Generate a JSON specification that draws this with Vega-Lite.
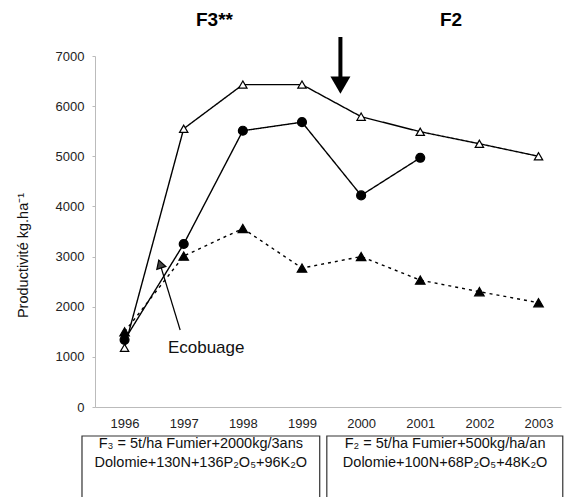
{
  "$schema": "https://vega.github.io/schema/vega-lite/v6.json",
  "width": 466,
  "height": 351,
  "autosize": {"type": "none"},
  "padding": {"left": 95, "top": 56, "right": 3, "bottom": 90},
  "background": "white",
  "config": {"view": {"stroke": null}, "font": "Liberation Sans"},
  "datasets": {
    "series": [
      {"year": 1996, "value": 1180, "series": "Série 1"},
      {"year": 1997, "value": 5550, "series": "Série 1"},
      {"year": 1998, "value": 6430, "series": "Série 1"},
      {"year": 1999, "value": 6430, "series": "Série 1"},
      {"year": 2000, "value": 5790, "series": "Série 1"},
      {"year": 2001, "value": 5490, "series": "Série 1"},
      {"year": 2002, "value": 5250, "series": "Série 1"},
      {"year": 2003, "value": 5000, "series": "Série 1"},
      {"year": 1996, "value": 1340, "series": "Série 2"},
      {"year": 1997, "value": 3250, "series": "Série 2"},
      {"year": 1998, "value": 5510, "series": "Série 2"},
      {"year": 1999, "value": 5680, "series": "Série 2"},
      {"year": 2000, "value": 4220, "series": "Série 2"},
      {"year": 2001, "value": 4970, "series": "Série 2"},
      {"year": 1996, "value": 1500, "series": "Série 3"},
      {"year": 1997, "value": 3010, "series": "Série 3"},
      {"year": 1998, "value": 3560, "series": "Série 3"},
      {"year": 1999, "value": 2770, "series": "Série 3"},
      {"year": 2000, "value": 3000, "series": "Série 3"},
      {"year": 2001, "value": 2530, "series": "Série 3"},
      {"year": 2002, "value": 2300, "series": "Série 3"},
      {"year": 2003, "value": 2080, "series": "Série 3"}
    ],
    "headers": [
      {"x": 1997.52, "y": 7718, "label": "F3**"},
      {"x": 2001.52, "y": 7718, "label": "F2"}
    ],
    "boxes": [
      {"x": 1995.28, "x2": 1999.3, "y": -578, "y2": -1850},
      {"x": 1999.42, "x2": 2003.41, "y": -578, "y2": -1850}
    ],
    "boxtext": [
      {"x": 1997.29, "y": -738, "label": "F₃ = 5t/ha Fumier+2000kg/3ans"},
      {"x": 1997.29, "y": -1117, "label": "Dolomie+130N+136P₂O₅+96K₂O"},
      {"x": 2001.42, "y": -738, "label": "F₂ = 5t/ha Fumier+500kg/ha/an"},
      {"x": 2001.42, "y": -1117, "label": "Dolomie+100N+68P₂O₅+48K₂O"}
    ],
    "bigarrow": [
      {"x": 1999.65, "y": 7379, "y2": 6550, "head": 6420}
    ],
    "ecoarrow": [
      {"x": 1996.94, "y": 1536, "x2": 1996.6, "y2": 2852}
    ],
    "ecotext": [
      {"x": 1997.38, "y": 1177, "label": "Ecobuage"}
    ]
  },
  "layer": [
    {
      "data": {"name": "series"},
      "mark": {"type": "line", "color": "black", "strokeWidth": 1.4},
      "encoding": {
        "x": {
          "field": "year", "type": "quantitative",
          "scale": {"domain": [1995.5, 2003.38], "nice": false, "zero": false},
          "axis": {
            "title": null, "values": [1996, 1997, 1998, 1999, 2000, 2001, 2002, 2003],
            "format": "d", "grid": false, "ticks": false, "domainColor": "#bbbbbb",
            "labelFontSize": 13, "labelColor": "#222222", "labelPadding": 10
          }
        },
        "y": {
          "field": "value", "type": "quantitative",
          "scale": {"domain": [0, 7000], "nice": false},
          "axis": {
            "title": "Productivité kg.ha⁻¹", "values": [0, 1000, 2000, 3000, 4000, 5000, 6000, 7000],
            "format": "d", "grid": false, "tickSize": 3, "tickColor": "#bbbbbb",
            "domainColor": "#bbbbbb", "labelFontSize": 13, "labelColor": "#222222",
            "labelPadding": 8, "titleFontSize": 14.5, "titleFontWeight": "normal",
            "titleColor": "#111111", "titleX": -72, "titleY": 199,
            "titleBaseline": "middle", "titleAlign": "center"
          }
        },
        "detail": {"field": "series"},
        "strokeDash": {
          "field": "series", "type": "nominal",
          "scale": {"domain": ["Série 1", "Série 2", "Série 3"], "range": [[1, 0], [1, 0], [3, 4]]},
          "legend": null
        }
      }
    },
    {
      "data": {"name": "series"},
      "mark": {"type": "point", "filled": true, "stroke": "black", "strokeWidth": 1.2, "opacity": 1},
      "encoding": {
        "x": {"field": "year", "type": "quantitative"},
        "y": {"field": "value", "type": "quantitative"},
        "shape": {
          "field": "series", "type": "nominal",
          "scale": {"domain": ["Série 1", "Série 2", "Série 3"], "range": ["triangle-up", "circle", "triangle-up"]},
          "legend": null
        },
        "fill": {
          "field": "series", "type": "nominal",
          "scale": {"domain": ["Série 1", "Série 2", "Série 3"], "range": ["white", "black", "black"]},
          "legend": null
        },
        "size": {
          "field": "series", "type": "nominal",
          "scale": {"domain": ["Série 1", "Série 2", "Série 3"], "range": [70, 90, 70]},
          "legend": null
        }
      }
    },
    {
      "data": {"name": "headers"},
      "mark": {"type": "text", "fontSize": 19, "fontWeight": "bold", "baseline": "middle", "align": "center", "color": "black"},
      "encoding": {
        "x": {"field": "x", "type": "quantitative"},
        "y": {"field": "y", "type": "quantitative"},
        "text": {"field": "label"}
      }
    },
    {
      "data": {"name": "bigarrow"},
      "mark": {"type": "rule", "color": "black", "strokeWidth": 4},
      "encoding": {
        "x": {"field": "x", "type": "quantitative"},
        "y": {"field": "y", "type": "quantitative"},
        "y2": {"field": "y2"}
      }
    },
    {
      "data": {"name": "bigarrow"},
      "mark": {"type": "point", "shape": "triangle-down", "filled": true, "color": "black", "size": 400, "opacity": 1},
      "encoding": {
        "x": {"field": "x", "type": "quantitative"},
        "y": {"field": "head", "type": "quantitative"}
      }
    },
    {
      "data": {"name": "ecoarrow"},
      "mark": {"type": "rule", "color": "black", "strokeWidth": 1.2},
      "encoding": {
        "x": {"field": "x", "type": "quantitative"},
        "y": {"field": "y", "type": "quantitative"},
        "x2": {"field": "x2"},
        "y2": {"field": "y2"}
      }
    },
    {
      "data": {"name": "ecoarrow"},
      "mark": {"type": "point", "shape": "triangle-up", "filled": true, "fill": "#444444", "stroke": "black", "strokeWidth": 1.2, "size": 90, "angle": -18, "opacity": 1},
      "encoding": {
        "x": {"field": "x2", "type": "quantitative"},
        "y": {"field": "y2", "type": "quantitative"}
      }
    },
    {
      "data": {"name": "ecotext"},
      "mark": {"type": "text", "fontSize": 17, "baseline": "middle", "align": "center", "color": "#111111"},
      "encoding": {
        "x": {"field": "x", "type": "quantitative"},
        "y": {"field": "y", "type": "quantitative"},
        "text": {"field": "label"}
      }
    },
    {
      "data": {"name": "boxes"},
      "mark": {"type": "rect", "fillOpacity": 0, "stroke": "#333333", "strokeWidth": 1.2},
      "encoding": {
        "x": {"field": "x", "type": "quantitative"},
        "x2": {"field": "x2"},
        "y": {"field": "y", "type": "quantitative"},
        "y2": {"field": "y2"}
      }
    },
    {
      "data": {"name": "boxtext"},
      "mark": {"type": "text", "fontSize": 14.5, "baseline": "middle", "align": "center", "color": "#111111"},
      "encoding": {
        "x": {"field": "x", "type": "quantitative"},
        "y": {"field": "y", "type": "quantitative"},
        "text": {"field": "label"}
      }
    }
  ]
}
